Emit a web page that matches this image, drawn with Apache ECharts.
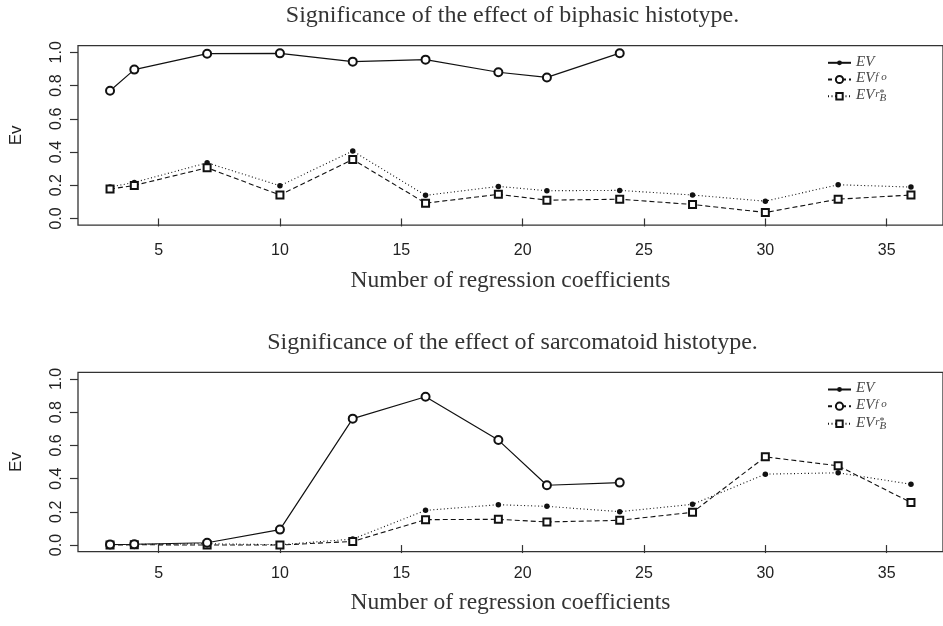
<!DOCTYPE html>
<html>
<head>
<meta charset="utf-8">
<script src="https://cdn.jsdelivr.net/npm/echarts@6/dist/echarts.min.js"></script>
<style>html,body{margin:0;padding:0;background:#fff}#c{width:943px;height:626px}</style>
</head>
<body>
<div id="c"></div>
<script>
// ---- data ----
const xAll = [3, 4, 7, 10, 13, 16, 19, 21, 24, 27, 30, 33, 36];
const xShort = [3, 4, 7, 10, 13, 16, 19, 21, 24];
const xTicks = [5, 10, 15, 20, 25, 30, 35];
const yTicks = [0, 0.2, 0.4, 0.6, 0.8, 1.0];

// biphasic panel
const bipCircle = [0.769, 0.896, 0.992, 0.994, 0.944, 0.956, 0.880, 0.849, 0.995];
const bipDot = [0.189, 0.217, 0.335, 0.197, 0.406, 0.139, 0.193, 0.167, 0.169, 0.141, 0.104, 0.203, 0.189];
const bipSquare = [0.177, 0.199, 0.305, 0.141, 0.355, 0.092, 0.145, 0.110, 0.116, 0.084, 0.036, 0.116, 0.141];

// sarcomatoid panel
const sarCircle = [0.003, 0.005, 0.014, 0.093, 0.761, 0.893, 0.632, 0.360, 0.376];
const sarDot = [0.003, 0.004, 0.008, 0.002, 0.036, 0.209, 0.243, 0.233, 0.201, 0.245, 0.427, 0.435, 0.366];
const sarSquare = [0.000, 0.002, 0.000, 0.000, 0.022, 0.153, 0.155, 0.139, 0.149, 0.197, 0.531, 0.477, 0.256];

const titles = ['Significance of the effect of biphasic histotype.', 'Significance of the effect of sarcomatoid histotype.'];
const xTitle = 'Number of regression coefficients';
const yTitle = 'Ev';
const legendNames = ['EV', 'EVfo', 'EVrB'];

// ---- chart ----
const INK = '#111';
const pair = (xs, ys) => xs.map((x, i) => [x, ys[i]]);
const chart = echarts.init(document.getElementById('c'), null, {renderer: 'canvas'});

const gridTops = [45.7, 372.3];
const grids = gridTops.map(t => ({left: 76.2, top: t, width: 873.3, height: 179.4, show: true,
  borderColor: '#333', borderWidth: 1.3, backgroundColor: '#fff'}));

const xAxes = [0, 1].map(i => ({
  type: 'value', gridIndex: i, min: 1.68, max: 37.32,
  name: xTitle, nameLocation: 'middle', nameGap: [44, 39][i],
  nameTextStyle: {fontFamily: 'Liberation Serif', fontSize: 23.5, color: '#333'},
  axisLine: {show: false},
  axisTick: {show: true, length: 8, customValues: xTicks, lineStyle: {color: '#333', width: 1.2}},
  axisLabel: {customValues: xTicks, fontFamily: 'Liberation Sans', fontSize: 16, color: '#222', margin: [17, 14][i]},
  splitLine: {show: false}
}));
const yAxes = [0, 1].map(i => ({
  type: 'value', gridIndex: i, min: -0.04, max: 1.04,
  name: yTitle, nameLocation: 'middle', nameGap: 53, nameRotate: 90,
  nameTextStyle: {fontFamily: 'Liberation Sans', fontSize: 17, color: '#222'},
  axisLine: {show: false},
  axisTick: {show: true, length: 8, customValues: yTicks, lineStyle: {color: '#333', width: 1.2}},
  axisLabel: {customValues: yTicks, rotate: 90, fontFamily: 'Liberation Sans', fontSize: 16, color: '#222', margin: 13,
    formatter: v => v.toFixed(1)},
  splitLine: {show: false}
}));

function solidCircle(i, xs, ys) {
  return {type: 'line', name: 's' + i, xAxisIndex: i, yAxisIndex: i, data: pair(xs, ys),
    symbol: 'emptyCircle', symbolSize: 8, z: 4,
    lineStyle: {color: INK, width: 1.2, type: 'solid'},
    itemStyle: {color: INK, borderWidth: 1.1}};
}
function dottedDot(i, xs, ys) {
  return {type: 'line', name: 'd' + i, xAxisIndex: i, yAxisIndex: i, data: pair(xs, ys),
    symbol: 'circle', symbolSize: 5.5, z: 3,
    lineStyle: {color: INK, width: 1.1, type: [1, 2.5]},
    itemStyle: {color: INK}};
}
function dashedSquare(i, xs, ys) {
  return {type: 'line', name: 'q' + i, xAxisIndex: i, yAxisIndex: i, data: pair(xs, ys),
    symbol: 'emptyRect', symbolSize: 7, z: 3,
    lineStyle: {color: INK, width: 1.1, type: [5, 3]},
    itemStyle: {color: INK, borderWidth: 1.2}};
}

// legend-only series (styles as in the legend key)
const legendSeries = [
  {type: 'line', name: 'EV', data: [], symbol: 'circle', symbolSize: 5,
    lineStyle: {color: INK, width: 1.2, type: 'solid'}, itemStyle: {color: INK}},
  {type: 'line', name: 'EVfo', data: [], symbol: 'emptyCircle', symbolSize: 8,
    lineStyle: {color: INK, width: 1.2, type: [4, 3]}, itemStyle: {color: INK, borderWidth: 1.2}},
  {type: 'line', name: 'EVrB', data: [], symbol: 'emptyRect', symbolSize: 7,
    lineStyle: {color: INK, width: 1.2, type: [1, 2.5]}, itemStyle: {color: INK, borderWidth: 1.2}}
];

const rich = {
  m: {fontFamily: 'Liberation Serif', fontStyle: 'italic', fontSize: 15, color: '#444', verticalAlign: 'bottom', lineHeight: 15, padding: [0, 0, 1, 0]},
  s: {fontFamily: 'Liberation Serif', fontStyle: 'italic', fontSize: 11, color: '#444', verticalAlign: 'top', lineHeight: 10, padding: [0, 0, 0, 1]},
  st: {fontFamily: 'Liberation Serif', fontSize: 10, color: '#444', verticalAlign: 'top', lineHeight: 8, width: 0},
  b: {fontFamily: 'Liberation Serif', fontStyle: 'italic', fontSize: 11, color: '#444', verticalAlign: 'bottom', lineHeight: 10}
};
const legendFmt = {
  EV: '{m|EV}',
  EVfo: '{m|EV}{s|f o}',
  EVrB: '{m|EV}{s|r}{st|*}{b|B}'
};
const rowCenters = [[63.3, 80, 96.7], [390, 406.7, 424.3]];
const itemHeights = {EV: 6, EVfo: 9, EVrB: 8};
const legends = [];
rowCenters.forEach(rows => rows.forEach((yc, k) => {
  const nm = legendNames[k];
  legends.push({
    data: [nm], left: 827, top: yc - 9, padding: 0, itemWidth: 23, itemHeight: itemHeights[nm], itemGap: 0,
    selectedMode: false,
    formatter: n => legendFmt[n],
    textStyle: {rich: rich, padding: [0, 0, 0, 0]}
  });
}));

const series = [
  solidCircle(0, xShort, bipCircle), dottedDot(0, xAll, bipDot), dashedSquare(0, xAll, bipSquare),
  solidCircle(1, xShort, sarCircle), dottedDot(1, xAll, sarDot), dashedSquare(1, xAll, sarSquare)
].concat(legendSeries);

const graphics = titles.map((t, i) => ({
  type: 'text', x: 512.5, y: [16, 343][i], silent: true,
  style: {text: t, fontFamily: 'Liberation Serif', fontSize: 24, fill: '#333', textAlign: 'center', textVerticalAlign: 'middle'}
}));

chart.setOption({
  animation: false,
  backgroundColor: '#fff',
  grid: grids,
  xAxis: xAxes,
  yAxis: yAxes,
  legend: legends,
  graphic: graphics,
  series: series
});
</script>
</body>
</html>
